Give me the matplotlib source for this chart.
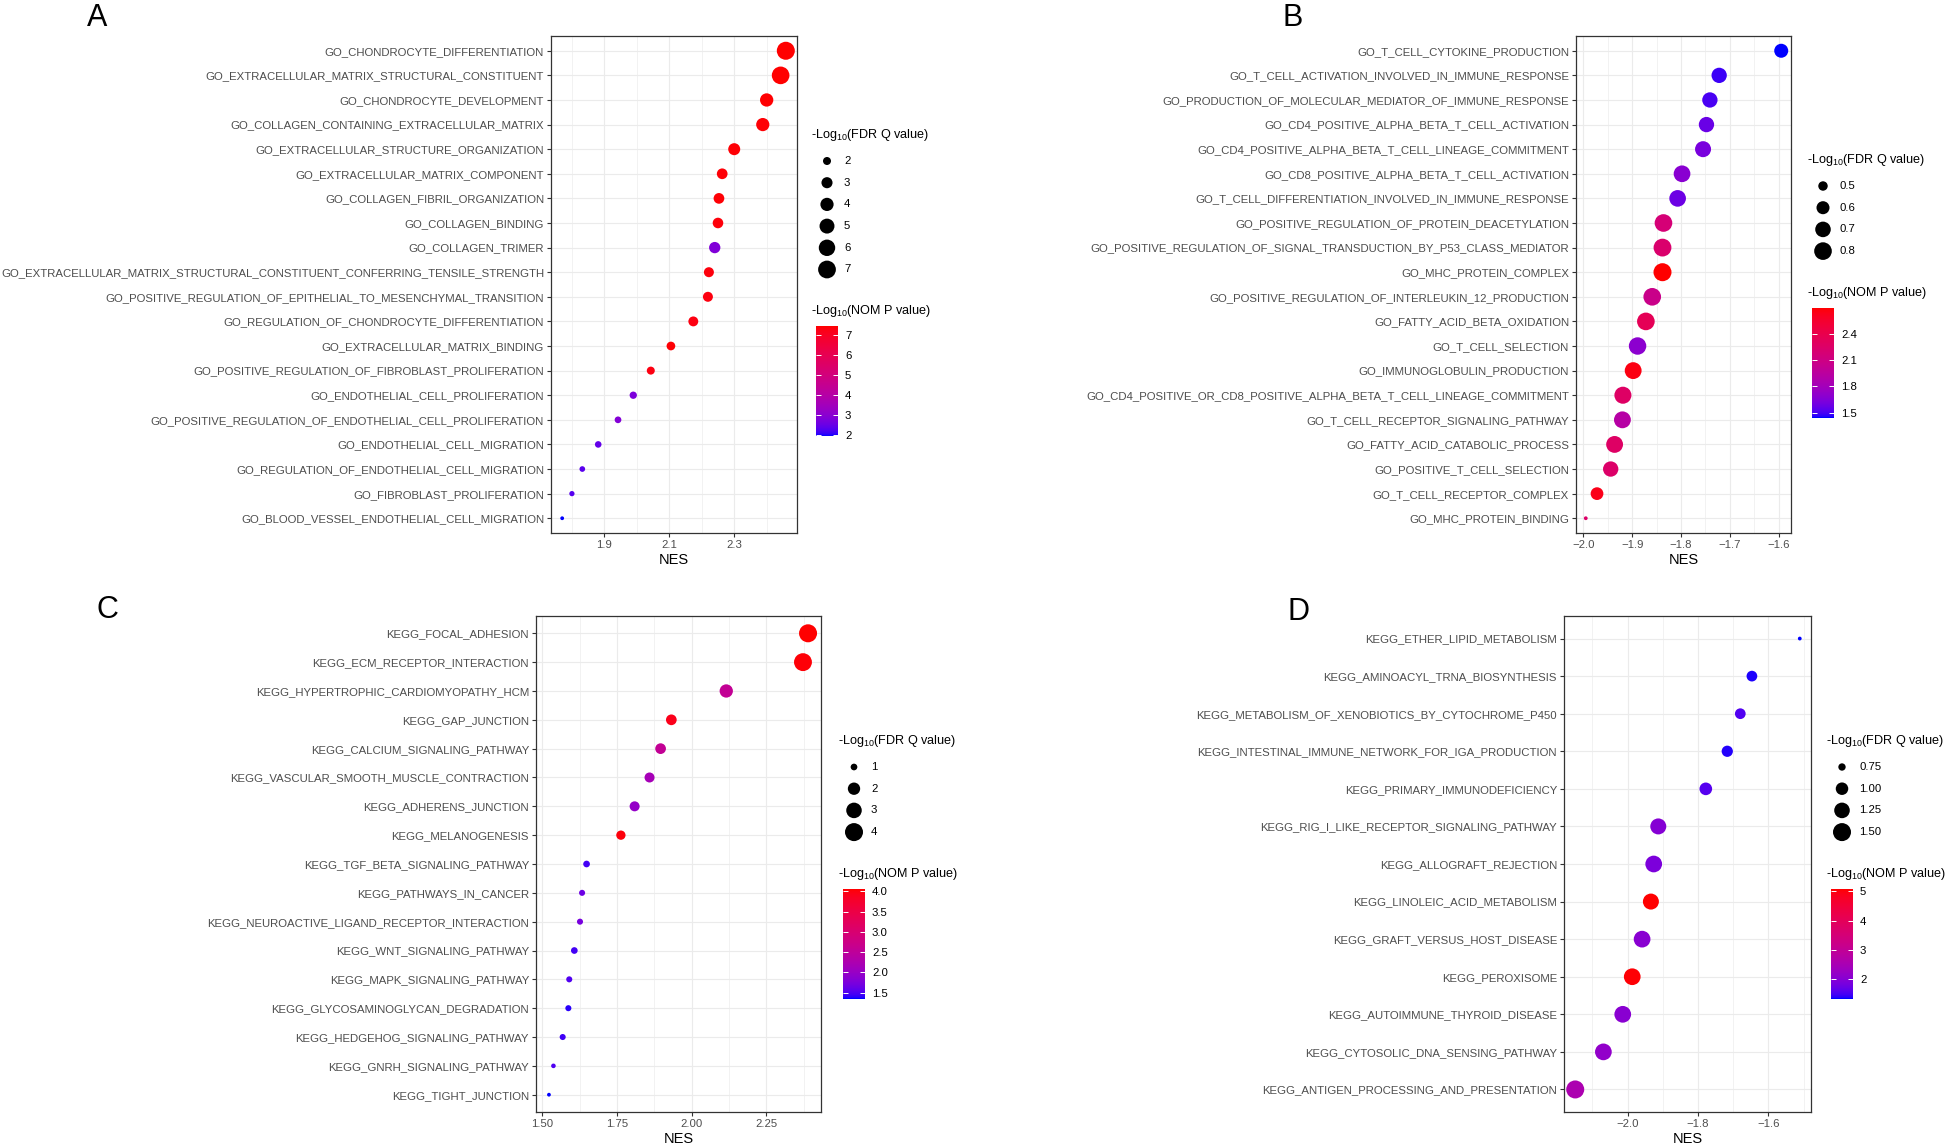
import numpy as np
import matplotlib

matplotlib.use("Agg")
import matplotlib.pyplot as plt
from matplotlib.cm import ScalarMappable
from matplotlib.colors import ListedColormap, Normalize


W, H = 1946, 1147
DPI = 100

plt.rcParams["font.family"] = ["Liberation Sans", "DejaVu Sans"]
plt.rcParams["mathtext.fontset"] = "custom"
plt.rcParams["mathtext.rm"] = "Liberation Sans"
plt.rcParams["mathtext.default"] = "regular"

# ---- data ----
A_TERMS = [
    "GO_CHONDROCYTE_DIFFERENTIATION",
    "GO_EXTRACELLULAR_MATRIX_STRUCTURAL_CONSTITUENT",
    "GO_CHONDROCYTE_DEVELOPMENT",
    "GO_COLLAGEN_CONTAINING_EXTRACELLULAR_MATRIX",
    "GO_EXTRACELLULAR_STRUCTURE_ORGANIZATION",
    "GO_EXTRACELLULAR_MATRIX_COMPONENT",
    "GO_COLLAGEN_FIBRIL_ORGANIZATION",
    "GO_COLLAGEN_BINDING",
    "GO_COLLAGEN_TRIMER",
    "GO_EXTRACELLULAR_MATRIX_STRUCTURAL_CONSTITUENT_CONFERRING_TENSILE_STRENGTH",
    "GO_POSITIVE_REGULATION_OF_EPITHELIAL_TO_MESENCHYMAL_TRANSITION",
    "GO_REGULATION_OF_CHONDROCYTE_DIFFERENTIATION",
    "GO_EXTRACELLULAR_MATRIX_BINDING",
    "GO_POSITIVE_REGULATION_OF_FIBROBLAST_PROLIFERATION",
    "GO_ENDOTHELIAL_CELL_PROLIFERATION",
    "GO_POSITIVE_REGULATION_OF_ENDOTHELIAL_CELL_PROLIFERATION",
    "GO_ENDOTHELIAL_CELL_MIGRATION",
    "GO_REGULATION_OF_ENDOTHELIAL_CELL_MIGRATION",
    "GO_FIBROBLAST_PROLIFERATION",
    "GO_BLOOD_VESSEL_ENDOTHELIAL_CELL_MIGRATION",
]
A_NES = [2.459, 2.443, 2.400, 2.388, 2.300, 2.263, 2.253, 2.250, 2.240, 2.222,
         2.219, 2.174, 2.105, 2.043, 1.989, 1.942, 1.881, 1.832, 1.800, 1.770]
A_FDR = [7.2, 6.9, 4.05, 4.0, 3.4, 2.85, 2.85, 2.8, 3.09, 2.59,
         2.58, 2.55, 2.18, 2.0, 1.85, 1.74, 1.72, 1.60, 1.56, 1.50]
A_NOMP = [7.46, 7.46, 7.42, 7.40, 7.40, 7.38, 7.40, 7.36, 2.81, 7.35,
          7.32, 7.30, 7.40, 7.30, 2.75, 2.86, 2.42, 2.31, 2.30, 1.92]

B_TERMS = [
    "GO_T_CELL_CYTOKINE_PRODUCTION",
    "GO_T_CELL_ACTIVATION_INVOLVED_IN_IMMUNE_RESPONSE",
    "GO_PRODUCTION_OF_MOLECULAR_MEDIATOR_OF_IMMUNE_RESPONSE",
    "GO_CD4_POSITIVE_ALPHA_BETA_T_CELL_ACTIVATION",
    "GO_CD4_POSITIVE_ALPHA_BETA_T_CELL_LINEAGE_COMMITMENT",
    "GO_CD8_POSITIVE_ALPHA_BETA_T_CELL_ACTIVATION",
    "GO_T_CELL_DIFFERENTIATION_INVOLVED_IN_IMMUNE_RESPONSE",
    "GO_POSITIVE_REGULATION_OF_PROTEIN_DEACETYLATION",
    "GO_POSITIVE_REGULATION_OF_SIGNAL_TRANSDUCTION_BY_P53_CLASS_MEDIATOR",
    "GO_MHC_PROTEIN_COMPLEX",
    "GO_POSITIVE_REGULATION_OF_INTERLEUKIN_12_PRODUCTION",
    "GO_FATTY_ACID_BETA_OXIDATION",
    "GO_T_CELL_SELECTION",
    "GO_IMMUNOGLOBULIN_PRODUCTION",
    "GO_CD4_POSITIVE_OR_CD8_POSITIVE_ALPHA_BETA_T_CELL_LINEAGE_COMMITMENT",
    "GO_T_CELL_RECEPTOR_SIGNALING_PATHWAY",
    "GO_FATTY_ACID_CATABOLIC_PROCESS",
    "GO_POSITIVE_T_CELL_SELECTION",
    "GO_T_CELL_RECEPTOR_COMPLEX",
    "GO_MHC_PROTEIN_BINDING",
]
B_NES = [-1.595, -1.722, -1.741, -1.748, -1.755, -1.798, -1.807, -1.836, -1.838, -1.838,
         -1.859, -1.872, -1.889, -1.898, -1.919, -1.920, -1.936, -1.944, -1.972, -1.995]
B_FDR = [0.636, 0.689, 0.69, 0.69, 0.72, 0.753, 0.75, 0.80, 0.81, 0.82,
         0.80, 0.80, 0.79, 0.76, 0.77, 0.76, 0.76, 0.69, 0.59, 0.44]
B_NOMP = [1.44, 1.48, 1.50, 1.57, 1.62, 1.68, 1.58, 2.17, 2.23, 2.70,
          2.07, 2.35, 1.69, 2.66, 2.27, 1.92, 2.27, 2.25, 2.64, 2.25]

C_TERMS = [
    "KEGG_FOCAL_ADHESION",
    "KEGG_ECM_RECEPTOR_INTERACTION",
    "KEGG_HYPERTROPHIC_CARDIOMYOPATHY_HCM",
    "KEGG_GAP_JUNCTION",
    "KEGG_CALCIUM_SIGNALING_PATHWAY",
    "KEGG_VASCULAR_SMOOTH_MUSCLE_CONTRACTION",
    "KEGG_ADHERENS_JUNCTION",
    "KEGG_MELANOGENESIS",
    "KEGG_TGF_BETA_SIGNALING_PATHWAY",
    "KEGG_PATHWAYS_IN_CANCER",
    "KEGG_NEUROACTIVE_LIGAND_RECEPTOR_INTERACTION",
    "KEGG_WNT_SIGNALING_PATHWAY",
    "KEGG_MAPK_SIGNALING_PATHWAY",
    "KEGG_GLYCOSAMINOGLYCAN_DEGRADATION",
    "KEGG_HEDGEHOG_SIGNALING_PATHWAY",
    "KEGG_GNRH_SIGNALING_PATHWAY",
    "KEGG_TIGHT_JUNCTION",
]
C_NES = [2.390, 2.373, 2.116, 1.932, 1.896, 1.859, 1.809, 1.763, 1.648,
         1.633, 1.626, 1.607, 1.590, 1.587, 1.568, 1.537, 1.522]
C_FDR = [4.0, 3.95, 2.27, 1.61, 1.61, 1.47, 1.47, 1.34, 1.0,
         0.95, 0.95, 1.0, 0.95, 0.95, 0.95, 0.88, 0.87]
C_NOMP = [4.06, 4.02, 2.57, 3.92, 2.57, 2.16, 1.97, 4.0, 1.46,
          1.65, 1.73, 1.46, 1.51, 1.40, 1.45, 1.50, 1.35]

D_TERMS = [
    "KEGG_ETHER_LIPID_METABOLISM",
    "KEGG_AMINOACYL_TRNA_BIOSYNTHESIS",
    "KEGG_METABOLISM_OF_XENOBIOTICS_BY_CYTOCHROME_P450",
    "KEGG_INTESTINAL_IMMUNE_NETWORK_FOR_IGA_PRODUCTION",
    "KEGG_PRIMARY_IMMUNODEFICIENCY",
    "KEGG_RIG_I_LIKE_RECEPTOR_SIGNALING_PATHWAY",
    "KEGG_ALLOGRAFT_REJECTION",
    "KEGG_LINOLEIC_ACID_METABOLISM",
    "KEGG_GRAFT_VERSUS_HOST_DISEASE",
    "KEGG_PEROXISOME",
    "KEGG_AUTOIMMUNE_THYROID_DISEASE",
    "KEGG_CYTOSOLIC_DNA_SENSING_PATHWAY",
    "KEGG_ANTIGEN_PROCESSING_AND_PRESENTATION",
]
D_NES = [-1.511, -1.647, -1.680, -1.717, -1.778, -1.913, -1.926,
         -1.934, -1.959, -1.987, -2.014, -2.069, -2.149]
D_FDR = [0.70, 0.89, 0.89, 0.92, 1.01, 1.29, 1.36, 1.29, 1.36, 1.36, 1.36, 1.36, 1.50]
D_NOMP = [1.33, 1.37, 1.56, 1.38, 1.59, 2.0, 1.89, 5.09, 2.04, 5.05, 2.04, 2.16, 2.57]

SIZE_TITLE = "-Log$_{10}$(FDR Q value)"
COLOR_TITLE = "-Log$_{10}$(NOM P value)"


# ---- blue -> red gradient interpolated in Lab, like ggplot ----
M_RGB2XYZ = np.array([[0.4124, 0.3576, 0.1805],
                      [0.2126, 0.7152, 0.0722],
                      [0.0193, 0.1192, 0.9505]])
WHITE = M_RGB2XYZ.sum(axis=1)


def rgb_to_lab(rgb):
    c = np.asarray(rgb, float)
    lin = np.where(c <= 0.04045, c / 12.92, ((c + 0.055) / 1.055) ** 2.4)
    xyz = M_RGB2XYZ @ lin / WHITE
    d = 6 / 29
    f = np.where(xyz > d ** 3, np.cbrt(xyz), xyz / (3 * d ** 2) + 4 / 29)
    return np.array([116 * f[1] - 16, 500 * (f[0] - f[1]), 200 * (f[1] - f[2])])


def lab_to_rgb(lab):
    L, a, b = lab
    fy = (L + 16) / 116
    f = np.array([fy + a / 500, fy, fy - b / 200])
    d = 6 / 29
    xyz = np.where(f > d, f ** 3, 3 * d ** 2 * (f - 4 / 29)) * WHITE
    lin = np.clip(np.linalg.solve(M_RGB2XYZ, xyz), 0, 1)
    return np.where(lin <= 0.0031308, 12.92 * lin, 1.055 * lin ** (1 / 2.4) - 0.055)


def lab_gradient(low, high, n=256):
    lo, hi = rgb_to_lab(low), rgb_to_lab(high)
    cols = [np.clip(lab_to_rgb(lo + t * (hi - lo)), 0, 1) for t in np.linspace(0, 1, n)]
    return ListedColormap(cols)


CMAP = lab_gradient([0, 0, 1], [1, 0, 0])


def px_rect(left, top, right, bottom):
    return [left / W, 1 - bottom / H, (right - left) / W, (bottom - top) / H]


def point_diameter(values, vmin, vmax):
    # ggplot scale_size: area-proportional, range 1..6 mm -> pixels here
    r = np.clip((np.asarray(values, float) - vmin) / (vmax - vmin), 0, 1)
    return 3.79 + 14.225 * np.sqrt(r)


def to_area(diam_px):
    return (np.asarray(diam_px) * 72 / DPI) ** 2


PANELS = [
    dict(letter="A", letter_xy=(97, 18), terms=A_TERMS, nes=A_NES, fdr=A_FDR, nomp=A_NOMP,
         box=(551, 36, 797, 533), major=[1.9, 2.1, 2.3], minor=[1.8, 2.0, 2.2, 2.4], fmt="{:.1f}",
         size_breaks=[2, 3, 4, 5, 6, 7], size_fmt="{:g}",
         color_breaks=[2, 3, 4, 5, 6, 7], color_fmt="{:g}", legend_xy=(811, 135)),
    dict(letter="B", letter_xy=(1293, 18), terms=B_TERMS, nes=B_NES, fdr=B_FDR, nomp=B_NOMP,
         box=(1576, 36, 1791, 533), major=[-2.0, -1.9, -1.8, -1.7, -1.6],
         minor=[-1.95, -1.85, -1.75, -1.65], fmt="{:.1f}",
         size_breaks=[0.5, 0.6, 0.7, 0.8], size_fmt="{:.1f}",
         color_breaks=[1.5, 1.8, 2.1, 2.4], color_fmt="{:.1f}", legend_xy=(1807, 160)),
    dict(letter="C", letter_xy=(107, 610), terms=C_TERMS, nes=C_NES, fdr=C_FDR, nomp=C_NOMP,
         box=(536, 616, 821, 1112), major=[1.5, 1.75, 2.0, 2.25],
         minor=[1.625, 1.875, 2.125, 2.375], fmt="{:.2f}",
         size_breaks=[1, 2, 3, 4], size_fmt="{:g}",
         color_breaks=[1.5, 2.0, 2.5, 3.0, 3.5, 4.0], color_fmt="{:.1f}", legend_xy=(838, 741)),
    dict(letter="D", letter_xy=(1298, 612), terms=D_TERMS, nes=D_NES, fdr=D_FDR, nomp=D_NOMP,
         box=(1564, 616, 1811, 1112), major=[-2.0, -1.8, -1.6], minor=[-2.1, -1.9, -1.7, -1.5],
         fmt="{:.1f}", size_breaks=[0.75, 1.0, 1.25, 1.5], size_fmt="{:.2f}",
         color_breaks=[2, 3, 4, 5], color_fmt="{:g}", legend_xy=(1826, 741)),
]

GRID = "#EBEBEB"
BORDER = "#333333"
TICK_TEXT = "#4D4D4D"
TICK_FS = 8.2
LEGEND_FS = 8.2
LEGEND_TITLE_FS = 9.1


def draw_panel(fig, overlay, cfg):
    terms, nes = cfg["terms"], np.asarray(cfg["nes"])
    fdr, nomp = np.asarray(cfg["fdr"]), np.asarray(cfg["nomp"])
    n = len(terms)
    y = np.arange(n)

    ax = fig.add_axes(px_rect(*cfg["box"]))
    fmin, fmax = fdr.min(), fdr.max()
    norm = Normalize(nomp.min(), nomp.max())

    ax.scatter(nes, y, s=to_area(point_diameter(fdr, fmin, fmax)), c=nomp,
               cmap=CMAP, norm=norm, linewidths=0, zorder=3)

    span = nes.max() - nes.min()
    ax.set_xlim(nes.min() - 0.05 * span, nes.max() + 0.05 * span)
    ax.set_ylim(n - 1 + 0.6, -0.6)
    ax.set_yticks(y)
    ax.set_yticklabels(terms)
    ax.set_xticks(cfg["major"])
    ax.set_xticklabels([cfg["fmt"].format(v).replace("-", "\u2212") for v in cfg["major"]])
    ax.set_xticks(cfg["minor"], minor=True)

    ax.grid(True, which="major", color=GRID, linewidth=0.85, zorder=0)
    ax.grid(True, which="minor", axis="x", color=GRID, linewidth=0.45, zorder=0)
    ax.set_axisbelow(True)
    for sp in ax.spines.values():
        sp.set_color(BORDER)
        sp.set_linewidth(0.9)
    ax.tick_params(which="major", length=3, width=0.8, color=BORDER, pad=2,
                   labelsize=TICK_FS, labelcolor=TICK_TEXT)
    ax.tick_params(which="minor", length=0)
    ax.set_xlabel("NES", fontsize=10.5, labelpad=2)

    # size legend
    lx, ly = cfg["legend_xy"]
    overlay.text(lx, ly, SIZE_TITLE, ha="left", va="center", fontsize=LEGEND_TITLE_FS)
    breaks = cfg["size_breaks"]
    key_y = ly + 26 + 21.7 * np.arange(len(breaks))
    overlay.scatter(np.full(len(breaks), lx + 16), key_y,
                    s=to_area(point_diameter(breaks, fmin, fmax)), c="black", linewidths=0)
    for yy, b in zip(key_y, breaks):
        overlay.text(lx + 33, yy, cfg["size_fmt"].format(b), ha="left", va="center",
                     fontsize=LEGEND_FS)

    # colour legend
    cy = ly + 46 + 21.7 * len(breaks)
    overlay.text(lx, cy, COLOR_TITLE, ha="left", va="center", fontsize=LEGEND_TITLE_FS)
    cax = fig.add_axes(px_rect(lx + 5, cy + 15, lx + 27, cy + 125))
    cb = fig.colorbar(ScalarMappable(norm=norm, cmap=CMAP), cax=cax)
    cb.set_ticks(cfg["color_breaks"])
    cb.set_ticklabels([cfg["color_fmt"].format(v) for v in cfg["color_breaks"]])
    cb.outline.set_visible(False)
    cax.tick_params(direction="in", color="white", width=0.7, length=3.5, left=True,
                    right=True, labelsize=LEGEND_FS, pad=5)

    overlay.text(*cfg["letter_xy"], cfg["letter"], ha="center", va="center", fontsize=22)


def main():
    fig = plt.figure(figsize=(W / DPI, H / DPI), dpi=DPI)
    overlay = fig.add_axes([0, 0, 1, 1])
    overlay.set_xlim(0, W)
    overlay.set_ylim(H, 0)
    overlay.axis("off")

    for cfg in PANELS:
        draw_panel(fig, overlay, cfg)

    fig.savefig("out.png", dpi=DPI, facecolor="white")
    plt.close(fig)


if __name__ == "__main__":
    main()
